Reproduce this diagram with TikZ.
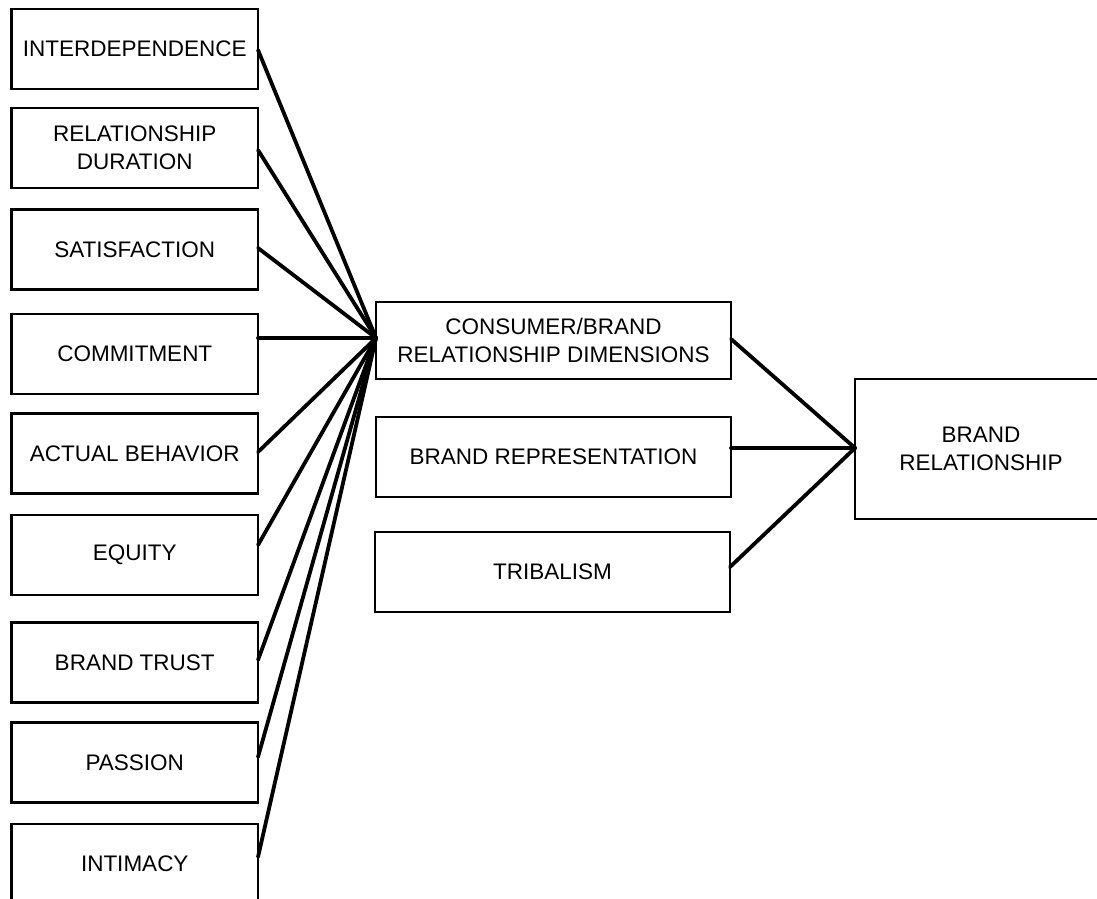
\documentclass[tikz,border=0pt]{standalone}
\usepackage{fontspec}
\setmainfont{Liberation Sans}
\begin{document}
\begin{tikzpicture}[x=1pt,y=-1pt,
  box/.style={draw=black, line width=2.8pt, rectangle, align=center,
    font=\fontsize{22.5}{27.5}\selectfont, inner sep=0pt, outer sep=0pt},
  leftbox/.style={box, minimum width=246.5pt, minimum height=80pt},
  midbox/.style={box, minimum width=355pt, minimum height=80pt},
  link/.style={draw=black, line width=3.8pt, line cap=round}]
\useasboundingbox (0,0) rectangle (1097,899);

% factor boxes
\node[leftbox] (b1) at (134.75,49)   {INTERDEPENDENCE};
\node[leftbox] (b2) at (134.75,148)  {RELATIONSHIP\\DURATION};
\node[leftbox] (b3) at (134.75,249.5){SATISFACTION};
\node[leftbox] (b4) at (134.75,354)  {COMMITMENT};
\node[leftbox] (b5) at (134.75,453.5){ACTUAL BEHAVIOR};
\node[leftbox] (b6) at (134.75,555)  {EQUITY};
\node[leftbox] (b7) at (134.75,662.5){BRAND TRUST};
\node[leftbox] (b8) at (134.75,762.5){PASSION};
\node[leftbox] (b9) at (134.75,864)  {INTIMACY};

% dimension boxes
\node[midbox, minimum height=77pt] (m1) at (553.5,340.5) {CONSUMER/BRAND\\RELATIONSHIP DIMENSIONS};
\node[midbox] (m2) at (553.5,457) {BRAND REPRESENTATION};
\node[midbox] (m3) at (552.5,572) {TRIBALISM};

% outcome box
\node[box, minimum width=252pt, minimum height=140pt] (r) at (981,449) {BRAND\\RELATIONSHIP};

% meeting points
\coordinate (hub) at ([yshift=2.5pt]m1.west);
\coordinate (rhub) at ([yshift=1pt]r.west);

% factors into the dimensions box
\draw[link] ([yshift=-1pt]b1.east) -- (hub);
\draw[link] ([yshift=-2pt]b2.east) -- (hub);
\draw[link] ([yshift=1.5pt]b3.east) -- (hub);
\draw[link] ([yshift=16pt]b4.east) -- (hub);
\draw[link] ([yshift=1.5pt]b5.east) -- (hub);
\draw[link] ([yshift=10pt]b6.east) -- (hub);
\draw[link] ([yshift=2.5pt]b7.east) -- (hub);
\draw[link] ([yshift=5.5pt]b8.east) -- (hub);
\draw[link] ([yshift=7pt]b9.east) -- (hub);

% dimensions into the brand relationship
\draw[link] ([yshift=1.5pt]m1.east) -- (rhub);
\draw[link] ([yshift=9pt]m2.east) -- (rhub);
\draw[link] ([yshift=5pt]m3.east) -- (rhub);
\end{tikzpicture}
\end{document}
